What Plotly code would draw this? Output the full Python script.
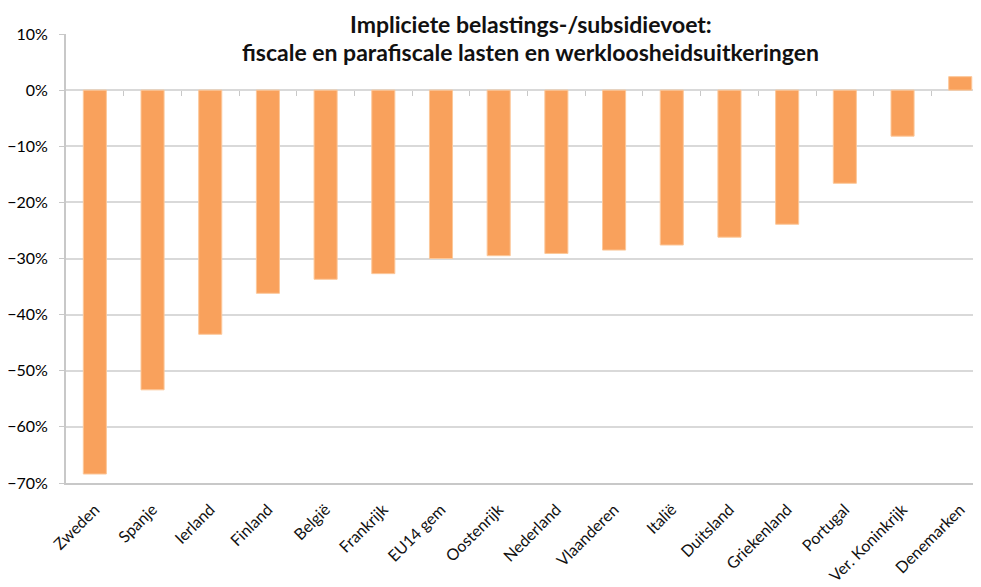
import plotly.graph_objects as go

categories = ["Zweden", "Spanje", "Ierland", "Finland", "België", "Frankrijk", "EU14 gem",
              "Oostenrijk", "Nederland", "Vlaanderen", "Italië", "Duitsland", "Griekenland",
              "Portugal", "Ver. Koninkrijk", "Denemarken"]
values = [-0.684, -0.534, -0.435, -0.362, -0.337, -0.327, -0.300, -0.295, -0.291, -0.285,
          -0.276, -0.262, -0.239, -0.166, -0.082, 0.024]
y_ticks = [0.1, 0.0, -0.1, -0.2, -0.3, -0.4, -0.5, -0.6, -0.7]
title_lines = ["Impliciete belastings-/subsidievoet:",
               "fiscale en parafiscale lasten en werkloosheidsuitkeringen"]

font_family = "Lato, 'Open Sans', sans-serif"
bar_color = "#F9A15C"
grid_color = "#D9D9D9"

fig = go.Figure()
fig.add_trace(go.Bar(
    x=categories, y=values,
    marker=dict(color=bar_color, line=dict(color="#FCC89A", width=1)),
    hoverinfo="x+y",
))

n = len(categories)
y_min, y_max = -0.70, 0.10
zero_pos = (0 - y_min) / (y_max - y_min)

# page body has an 8px default margin, so the figure is sized to fit the window
fig.update_layout(
    width=973, height=579,
    margin=dict(l=58, r=0, t=26, b=104),
    paper_bgcolor="white", plot_bgcolor="white",
    showlegend=False,
    bargap=0.6,
    font=dict(family=font_family, color="#111"),
    xaxis=dict(
        type="category", range=[-0.5, 15.36], automargin=False,
        tickangle=-45, tickfont=dict(size=16, color="#111"),
        showline=True, linecolor="#C8C8C8", linewidth=2,
        ticks="", showgrid=False, ticklabelstandoff=9,
    ),
    xaxis2=dict(
        overlaying="x", anchor="free", position=zero_pos, automargin=False,
        range=[-0.5, 15.36], tickmode="array",
        tickvals=[i + 0.5 for i in range(n - 1)],
        ticks="outside", ticklen=5, tickcolor="#C8C8C8", tickwidth=1,
        showticklabels=False, showgrid=False, showline=False, zeroline=False,
    ),
    yaxis=dict(
        range=[y_min, y_max], tickmode="array", tickvals=y_ticks, automargin=False,
        tickformat=".0%", tickfont=dict(size=16, color="#000"),
        showgrid=True, gridcolor=grid_color, gridwidth=1.5,
        zeroline=True, zerolinecolor=grid_color, zerolinewidth=1.5,
        showline=True, linecolor="#C8C8C8", linewidth=2,
        ticks="outside", ticklen=5, tickcolor="#C8C8C8",
        ticklabelstandoff=8,
    ),
    annotations=[
        dict(text="<b>%s</b>" % title_lines[0], x=0.508, y=1.0575, xref="paper", yref="paper",
             xanchor="center", yanchor="top", showarrow=False,
             font=dict(size=23, family=font_family, color="#111")),
        dict(text="<b>%s</b>" % title_lines[1], x=0.508, y=0.960, xref="paper", yref="paper",
             xanchor="center", yanchor="middle", showarrow=False,
             font=dict(size=23, family=font_family, color="#111")),
    ],
)
# invisible trace to activate xaxis2
fig.add_trace(go.Scatter(x=[0], y=[0], xaxis="x2", mode="markers",
                         marker=dict(opacity=0), hoverinfo="skip"))

fig.write_html("out.html")
